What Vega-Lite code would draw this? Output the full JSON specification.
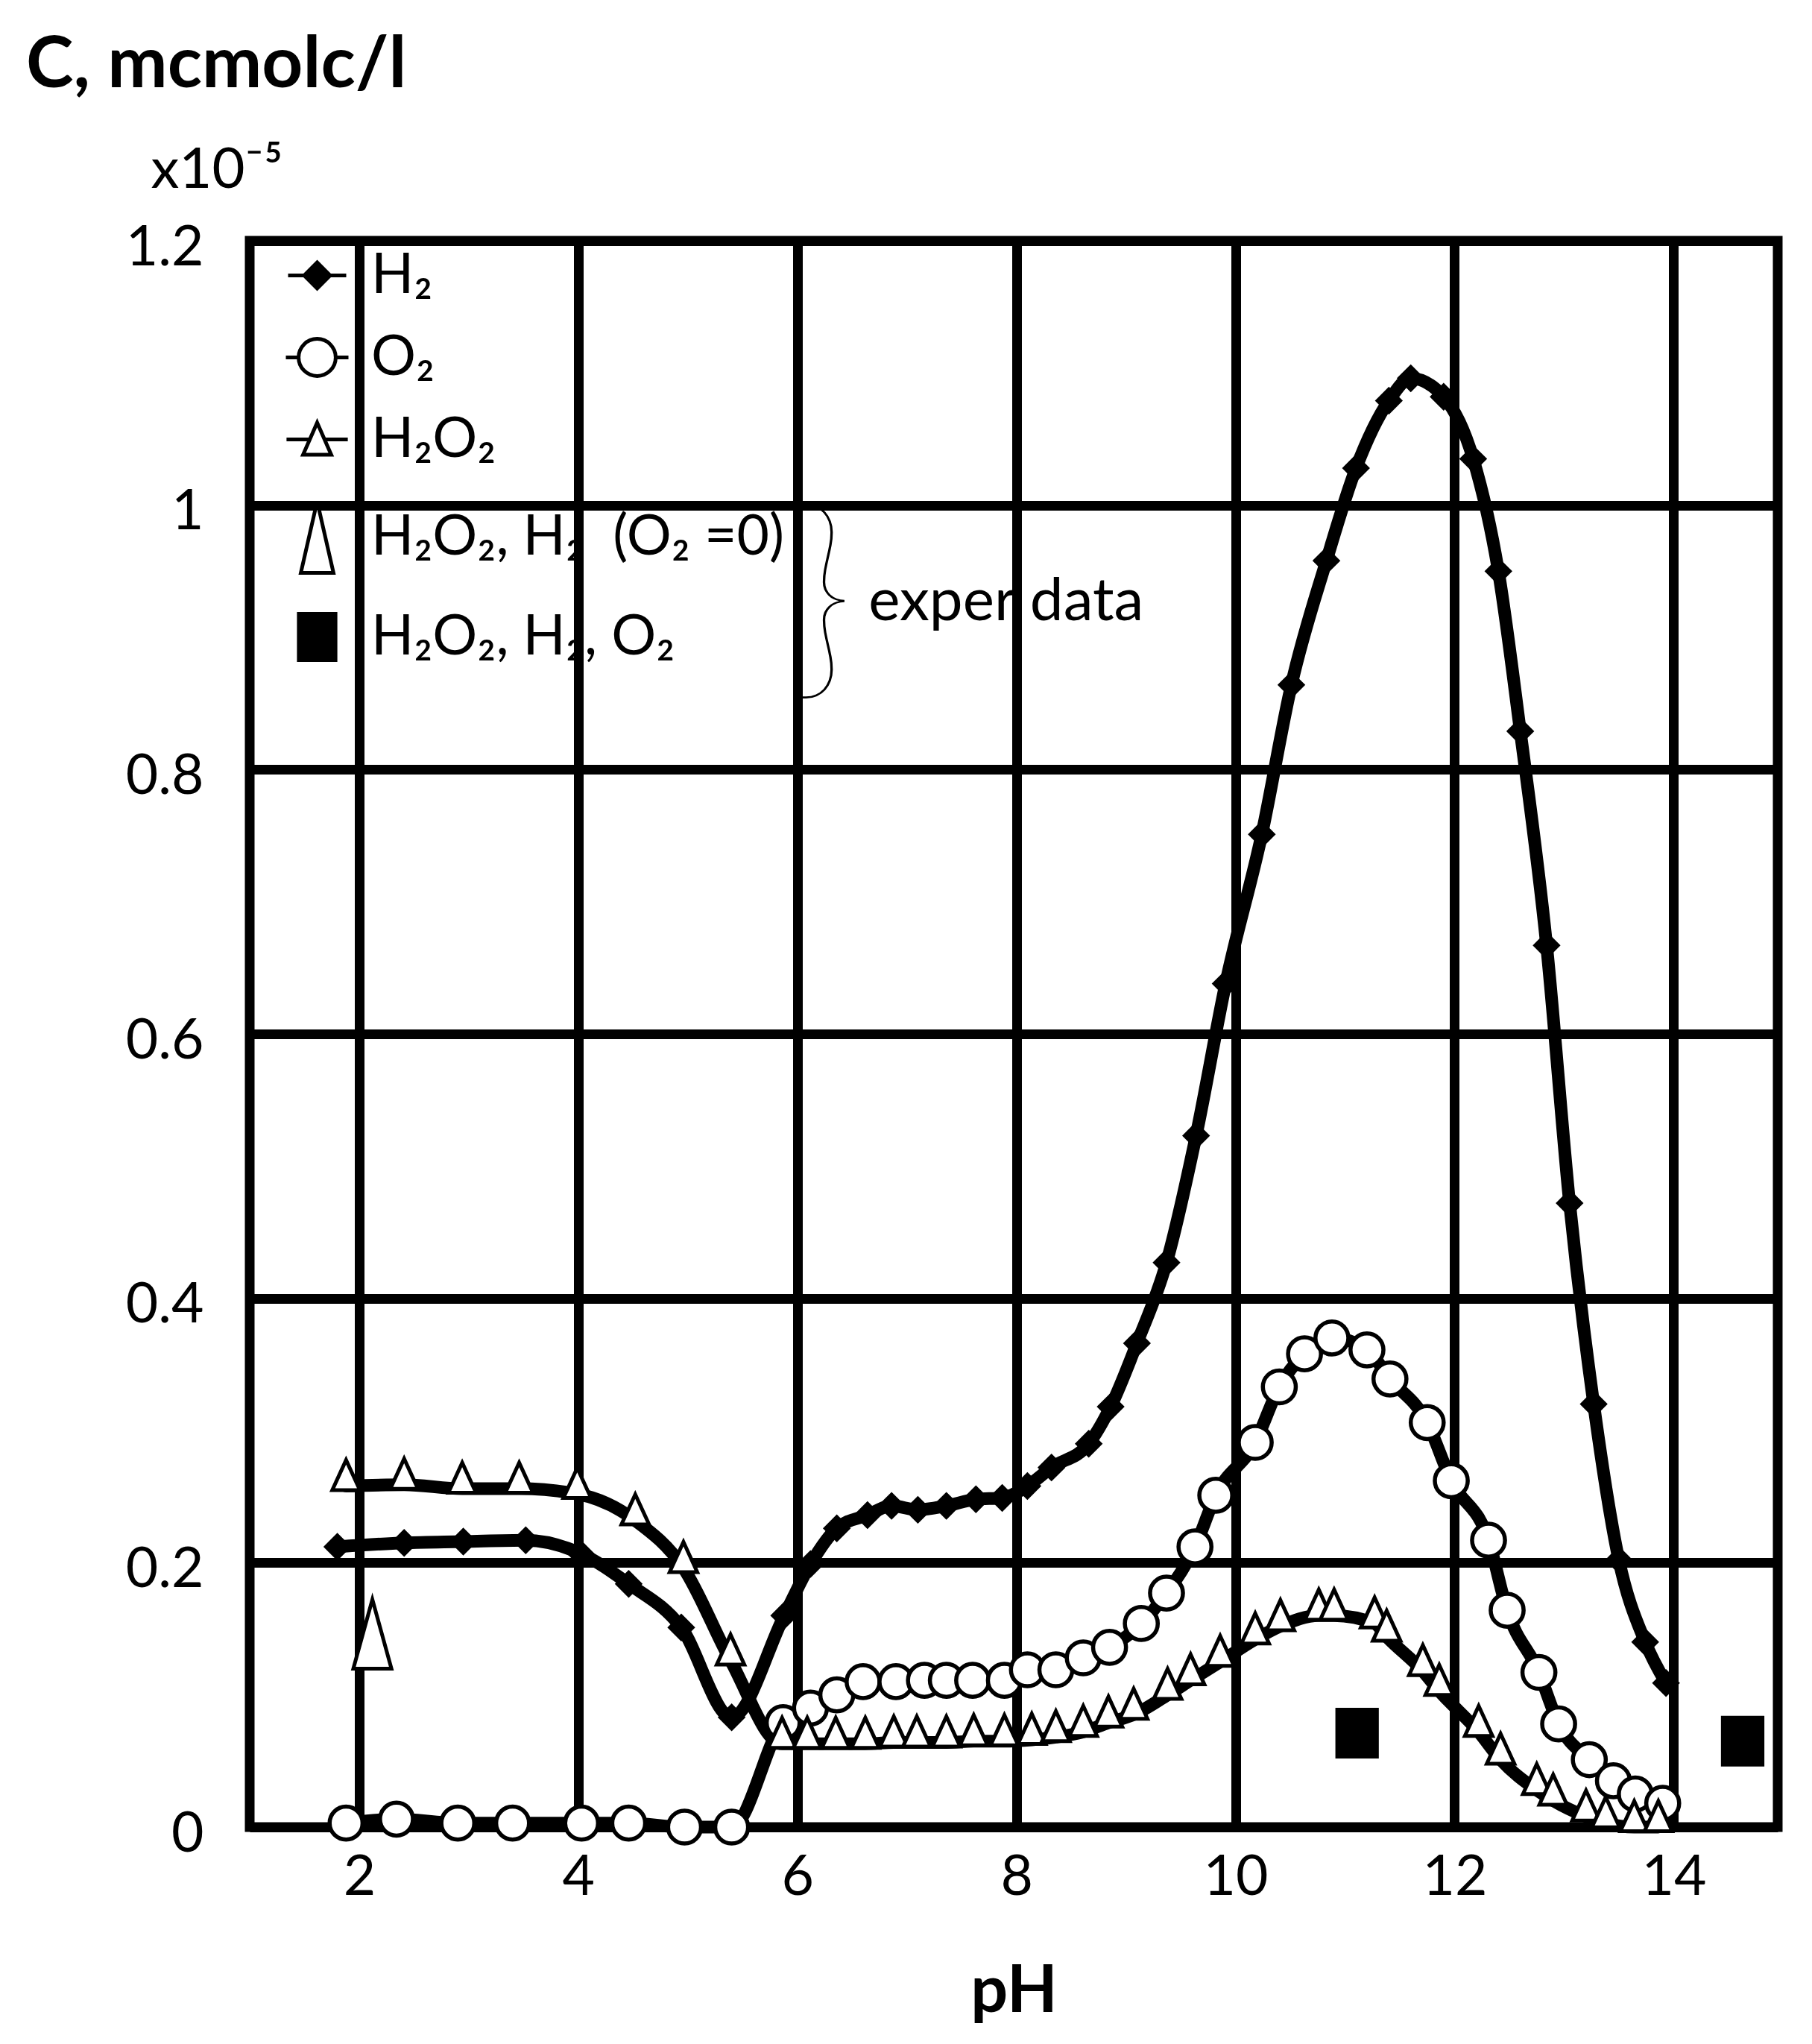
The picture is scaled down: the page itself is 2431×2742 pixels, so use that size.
{
  "$schema": "https://vega.github.io/schema/vega-lite/v6.json",
  "width": 2050,
  "height": 2128,
  "padding": {"left": 35, "top": 40, "right": 10, "bottom": 10},
  "background": "white",
  "title": {
    "text": "C, mcmolc/l",
    "anchor": "start",
    "frame": "group",
    "dx": -300,
    "font": "Lato",
    "fontSize": 96,
    "fontWeight": "bold",
    "color": "black",
    "offset": 53
  },
  "data": {
    "values": [
      {"series": "H2", "pH": 1.80, "C": 0.212},
      {"series": "H2", "pH": 2.41, "C": 0.215},
      {"series": "H2", "pH": 2.95, "C": 0.216},
      {"series": "H2", "pH": 3.52, "C": 0.217},
      {"series": "H2", "pH": 4.02, "C": 0.207},
      {"series": "H2", "pH": 4.46, "C": 0.184},
      {"series": "H2", "pH": 4.94, "C": 0.151},
      {"series": "H2", "pH": 5.40, "C": 0.083},
      {"series": "H2", "pH": 5.88, "C": 0.160},
      {"series": "H2", "pH": 6.12, "C": 0.199},
      {"series": "H2", "pH": 6.36, "C": 0.226},
      {"series": "H2", "pH": 6.64, "C": 0.236},
      {"series": "H2", "pH": 6.86, "C": 0.243},
      {"series": "H2", "pH": 7.10, "C": 0.240},
      {"series": "H2", "pH": 7.36, "C": 0.243},
      {"series": "H2", "pH": 7.63, "C": 0.248},
      {"series": "H2", "pH": 7.87, "C": 0.249},
      {"series": "H2", "pH": 8.10, "C": 0.258},
      {"series": "H2", "pH": 8.32, "C": 0.272},
      {"series": "H2", "pH": 8.66, "C": 0.290},
      {"series": "H2", "pH": 8.86, "C": 0.318},
      {"series": "H2", "pH": 9.10, "C": 0.366},
      {"series": "H2", "pH": 9.37, "C": 0.427},
      {"series": "H2", "pH": 9.64, "C": 0.523},
      {"series": "H2", "pH": 9.91, "C": 0.638},
      {"series": "H2", "pH": 10.24, "C": 0.751},
      {"series": "H2", "pH": 10.51, "C": 0.864},
      {"series": "H2", "pH": 10.83, "C": 0.958},
      {"series": "H2", "pH": 11.10, "C": 1.028},
      {"series": "H2", "pH": 11.40, "C": 1.079},
      {"series": "H2", "pH": 11.60, "C": 1.096},
      {"series": "H2", "pH": 11.90, "C": 1.082},
      {"series": "H2", "pH": 12.17, "C": 1.035},
      {"series": "H2", "pH": 12.40, "C": 0.950},
      {"series": "H2", "pH": 12.60, "C": 0.829},
      {"series": "H2", "pH": 12.84, "C": 0.667},
      {"series": "H2", "pH": 13.05, "C": 0.472},
      {"series": "H2", "pH": 13.27, "C": 0.320},
      {"series": "H2", "pH": 13.50, "C": 0.202},
      {"series": "H2", "pH": 13.74, "C": 0.140},
      {"series": "H2", "pH": 13.93, "C": 0.109},

      {"series": "O2", "pH": 1.88, "C": 0.003},
      {"series": "O2", "pH": 2.34, "C": 0.006},
      {"series": "O2", "pH": 2.90, "C": 0.003},
      {"series": "O2", "pH": 3.40, "C": 0.003},
      {"series": "O2", "pH": 4.03, "C": 0.003},
      {"series": "O2", "pH": 4.46, "C": 0.003},
      {"series": "O2", "pH": 4.97, "C": 0.000},
      {"series": "O2", "pH": 5.40, "C": 0.000},
      {"series": "O2", "pH": 5.87, "C": 0.079},
      {"series": "O2", "pH": 6.12, "C": 0.090},
      {"series": "O2", "pH": 6.36, "C": 0.100},
      {"series": "O2", "pH": 6.60, "C": 0.110},
      {"series": "O2", "pH": 6.90, "C": 0.110},
      {"series": "O2", "pH": 7.16, "C": 0.111},
      {"series": "O2", "pH": 7.36, "C": 0.111},
      {"series": "O2", "pH": 7.60, "C": 0.111},
      {"series": "O2", "pH": 7.89, "C": 0.111},
      {"series": "O2", "pH": 8.10, "C": 0.119},
      {"series": "O2", "pH": 8.36, "C": 0.119},
      {"series": "O2", "pH": 8.61, "C": 0.128},
      {"series": "O2", "pH": 8.85, "C": 0.136},
      {"series": "O2", "pH": 9.14, "C": 0.154},
      {"series": "O2", "pH": 9.37, "C": 0.177},
      {"series": "O2", "pH": 9.63, "C": 0.212},
      {"series": "O2", "pH": 9.82, "C": 0.251},
      {"series": "O2", "pH": 10.18, "C": 0.291},
      {"series": "O2", "pH": 10.40, "C": 0.333},
      {"series": "O2", "pH": 10.63, "C": 0.358},
      {"series": "O2", "pH": 10.88, "C": 0.370},
      {"series": "O2", "pH": 11.20, "C": 0.361},
      {"series": "O2", "pH": 11.41, "C": 0.339},
      {"series": "O2", "pH": 11.75, "C": 0.306},
      {"series": "O2", "pH": 11.97, "C": 0.262},
      {"series": "O2", "pH": 12.31, "C": 0.217},
      {"series": "O2", "pH": 12.48, "C": 0.164},
      {"series": "O2", "pH": 12.77, "C": 0.117},
      {"series": "O2", "pH": 12.95, "C": 0.078},
      {"series": "O2", "pH": 13.23, "C": 0.051},
      {"series": "O2", "pH": 13.45, "C": 0.035},
      {"series": "O2", "pH": 13.65, "C": 0.025},
      {"series": "O2", "pH": 13.90, "C": 0.018},

      {"series": "H2O2", "pH": 1.88, "C": 0.258},
      {"series": "H2O2", "pH": 2.41, "C": 0.259},
      {"series": "H2O2", "pH": 2.94, "C": 0.256},
      {"series": "H2O2", "pH": 3.46, "C": 0.256},
      {"series": "H2O2", "pH": 3.99, "C": 0.252},
      {"series": "H2O2", "pH": 4.52, "C": 0.232},
      {"series": "H2O2", "pH": 4.96, "C": 0.196},
      {"series": "H2O2", "pH": 5.39, "C": 0.126},
      {"series": "H2O2", "pH": 5.86, "C": 0.063},
      {"series": "H2O2", "pH": 6.09, "C": 0.063},
      {"series": "H2O2", "pH": 6.35, "C": 0.063},
      {"series": "H2O2", "pH": 6.62, "C": 0.063},
      {"series": "H2O2", "pH": 6.88, "C": 0.064},
      {"series": "H2O2", "pH": 7.09, "C": 0.064},
      {"series": "H2O2", "pH": 7.36, "C": 0.064},
      {"series": "H2O2", "pH": 7.61, "C": 0.065},
      {"series": "H2O2", "pH": 7.89, "C": 0.065},
      {"series": "H2O2", "pH": 8.14, "C": 0.066},
      {"series": "H2O2", "pH": 8.36, "C": 0.068},
      {"series": "H2O2", "pH": 8.61, "C": 0.072},
      {"series": "H2O2", "pH": 8.84, "C": 0.079},
      {"series": "H2O2", "pH": 9.07, "C": 0.085},
      {"series": "H2O2", "pH": 9.38, "C": 0.100},
      {"series": "H2O2", "pH": 9.59, "C": 0.111},
      {"series": "H2O2", "pH": 9.86, "C": 0.125},
      {"series": "H2O2", "pH": 10.18, "C": 0.142},
      {"series": "H2O2", "pH": 10.41, "C": 0.152},
      {"series": "H2O2", "pH": 10.76, "C": 0.160},
      {"series": "H2O2", "pH": 10.90, "C": 0.160},
      {"series": "H2O2", "pH": 11.27, "C": 0.154},
      {"series": "H2O2", "pH": 11.38, "C": 0.144},
      {"series": "H2O2", "pH": 11.71, "C": 0.118},
      {"series": "H2O2", "pH": 11.86, "C": 0.103},
      {"series": "H2O2", "pH": 12.22, "C": 0.072},
      {"series": "H2O2", "pH": 12.42, "C": 0.051},
      {"series": "H2O2", "pH": 12.75, "C": 0.028},
      {"series": "H2O2", "pH": 12.90, "C": 0.020},
      {"series": "H2O2", "pH": 13.20, "C": 0.008},
      {"series": "H2O2", "pH": 13.38, "C": 0.003},
      {"series": "H2O2", "pH": 13.64, "C": 0.000},
      {"series": "H2O2", "pH": 13.86, "C": 0.000},

      {"series": "exp_H2O2_H2", "pH": 2.12, "C": 0.146},
      {"series": "exp_H2O2_H2_O2", "pH": 11.11, "C": 0.071},
      {"series": "exp_H2O2_H2_O2", "pH": 14.63, "C": 0.065}
    ]
  },
  "layer": [
    {
      "encoding": {
        "x": {
          "field": "pH",
          "type": "quantitative",
          "scale": {"domain": [1, 14.95], "nice": false, "zero": false},
          "axis": {
            "values": [2, 4, 6, 8, 10, 12, 14],
            "format": "d",
            "grid": true,
            "domain": false,
            "ticks": false,
            "labelFont": "Lato",
            "labelFontSize": 75,
            "labelColor": "black",
            "labelPadding": 31,
            "labelFlush": false,
            "title": "pH",
            "titleFont": "Lato",
            "titleFontSize": 88,
            "titleFontWeight": "bold",
            "titleColor": "black",
            "titlePadding": 72
          }
        },
        "y": {
          "field": "C",
          "type": "quantitative",
          "scale": {"domain": [0, 1.2], "nice": false},
          "axis": {
            "values": [0, 0.2, 0.4, 0.6, 0.8, 1, 1.2],
            "format": "~g",
            "grid": true,
            "domain": false,
            "ticks": false,
            "labelFont": "Lato",
            "labelFontSize": 75,
            "labelColor": "black",
            "labelPadding": 62,
            "labelOffset": 9,
            "labelFlush": false,
            "title": "x10⁻⁵",
            "titleAngle": 0,
            "titleX": -133,
            "titleY": -72,
            "titleAlign": "left",
            "titleBaseline": "alphabetic",
            "titleFont": "Lato",
            "titleFontSize": 76,
            "titleFontWeight": "normal",
            "titleColor": "black"
          }
        }
      },
      "layer": [
        {
          "transform": [{"filter": "datum.series === 'H2' || datum.series === 'O2' || datum.series === 'H2O2'"}],
          "mark": {"type": "line", "interpolate": "monotone", "color": "black", "strokeWidth": 17, "strokeCap": "round", "strokeJoin": "round"},
          "encoding": {"detail": {"field": "series"}}
        },
        {
          "transform": [{"filter": "datum.series === 'H2'"}],
          "mark": {"type": "point", "shape": "diamond", "filled": true, "fill": "black", "stroke": "black", "strokeWidth": 3, "size": 1100, "opacity": 1}
        },
        {
          "transform": [{"filter": "datum.series === 'O2'"}],
          "mark": {"type": "point", "shape": "circle", "filled": true, "fill": "white", "stroke": "black", "strokeWidth": 5.5, "size": 1950, "opacity": 1}
        },
        {
          "transform": [{"filter": "datum.series === 'H2O2'"}],
          "mark": {"type": "point", "shape": "M0,-1.6L0.85,0.25L-0.85,0.25Z", "filled": true, "fill": "white", "stroke": "black", "strokeWidth": 5, "size": 1900, "opacity": 1}
        },
        {
          "transform": [{"filter": "datum.series === 'exp_H2O2_H2'"}],
          "mark": {"type": "point", "shape": "M0,-1L0.55,1L-0.55,1Z", "filled": true, "fill": "white", "stroke": "black", "strokeWidth": 5, "size": 8649, "opacity": 1}
        },
        {
          "transform": [{"filter": "datum.series === 'exp_H2O2_H2_O2'"}],
          "mark": {"type": "point", "shape": "M-0.85,-1H0.85V1H-0.85Z", "filled": true, "fill": "black", "stroke": "black", "strokeWidth": 3, "size": 4225, "opacity": 1}
        },
        {
          "transform": [{"filter": "false"}],
          "mark": {"type": "point", "filled": true, "stroke": "black", "strokeWidth": 5, "size": 3600, "opacity": 1},
          "encoding": {
            "shape": {
              "field": "series",
              "type": "nominal",
              "scale": {
                "domain": ["H2", "O2", "H2O2", "exp_H2O2_H2", "exp_H2O2_H2_O2"],
                "range": [
                  "M-1.3,0H-0.58M0.58,0H1.3M0,-0.58L0.58,0L0,0.58L-0.58,0Z",
                  "M-1.4,0H-0.83M0.83,0H1.4M-0.83,0A0.83,0.83,0,1,0,0.83,0A0.83,0.83,0,1,0,-0.83,0Z",
                  "M-1.37,0H-0.33M0.33,0H1.37M0,-0.75L0.63,0.68L-0.63,0.68Z",
                  "M0,-1.6L0.73,1.6L-0.73,1.6Z",
                  "M-0.82,-1.03H0.82V1.03H-0.82Z"
                ]
              },
              "legend": {
                "title": null,
                "orient": "none",
                "legendX": 53,
                "legendY": 9,
                "padding": 0,
                "rowPadding": 34,
                "labelOffset": 35,
                "labelFont": "Lato",
                "labelFontSize": 75,
                "labelColor": "black",
                "labelLimit": 1200,
                "symbolSize": 3600,
                "symbolStrokeColor": "black",
                "symbolStrokeWidth": 5,
                "symbolOpacity": 1,
                "encode": {"symbols": {"update": {"stroke": {"value": "black"}, "strokeWidth": {"value": 5}, "opacity": {"value": 1}}}},
                "labelExpr": "datum.value == 'H2' ? 'H₂' : datum.value == 'O2' ? 'O₂' : datum.value == 'H2O2' ? 'H₂O₂' : datum.value == 'exp_H2O2_H2' ? 'H₂O₂, H₂\u00a0\u00a0(O₂\u00a0=0)' : 'H₂O₂, H₂, O₂'"
              }
            },
            "fill": {
              "field": "series",
              "type": "nominal",
              "scale": {
                "domain": ["H2", "O2", "H2O2", "exp_H2O2_H2", "exp_H2O2_H2_O2"],
                "range": ["black", "white", "white", "white", "black"]
              },
              "legend": {
                "title": null,
                "orient": "none",
                "legendX": 53,
                "legendY": 9,
                "padding": 0,
                "rowPadding": 34,
                "labelOffset": 35,
                "labelFont": "Lato",
                "labelFontSize": 75,
                "labelColor": "black",
                "labelLimit": 1200,
                "symbolSize": 3600,
                "symbolStrokeColor": "black",
                "symbolStrokeWidth": 5,
                "symbolOpacity": 1,
                "encode": {"symbols": {"update": {"stroke": {"value": "black"}, "strokeWidth": {"value": 5}, "opacity": {"value": 1}}}},
                "labelExpr": "datum.value == 'H2' ? 'H₂' : datum.value == 'O2' ? 'O₂' : datum.value == 'H2O2' ? 'H₂O₂' : datum.value == 'exp_H2O2_H2' ? 'H₂O₂, H₂\u00a0\u00a0(O₂\u00a0=0)' : 'H₂O₂, H₂, O₂'"
              }
            }
          }
        }
      ]
    },
    {
      "data": {"values": [{"note": "exper data"}]},
      "mark": {"type": "text", "align": "left", "baseline": "alphabetic", "font": "Lato", "fontSize": 80, "color": "black"},
      "encoding": {
        "x": {"datum": 6.65, "type": "quantitative"},
        "y": {"datum": 0.913, "type": "quantitative"},
        "text": {"field": "note", "type": "nominal"}
      }
    },
    {
      "data": {"values": [{"note": "}"}]},
      "mark": {"type": "text", "align": "center", "baseline": "middle", "font": "Lato", "fontWeight": 200, "fontSize": 300, "color": "black"},
      "encoding": {
        "x": {"datum": 6.23, "type": "quantitative"},
        "y": {"datum": 0.925, "type": "quantitative"},
        "text": {"field": "note", "type": "nominal"}
      }
    }
  ],
  "config": {
    "view": {"stroke": "black", "strokeWidth": 13},
    "axis": {"gridColor": "black", "gridWidth": 13, "gridOpacity": 1},
    "font": "Lato"
  }
}
